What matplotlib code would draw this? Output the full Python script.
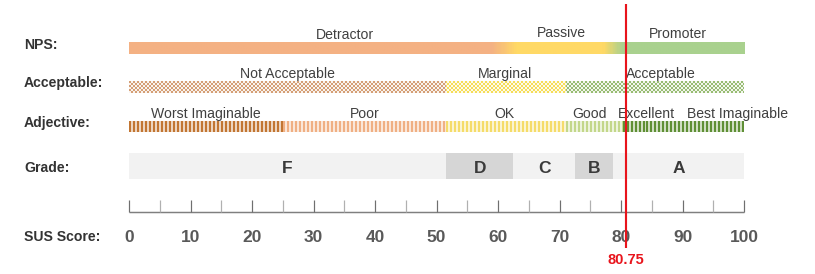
import numpy as np
import matplotlib
matplotlib.use("Agg")
import matplotlib.pyplot as plt
from matplotlib.colors import LinearSegmentedColormap, to_rgb

# ---------------- data ----------------
sus_score = 80.75

nps_labels = ["Detractor", "Passive", "Promoter"]
nps_bounds = [0, 62.7, 78.8, 100]
nps_label_x = [35.1, 70.3, 89.2]

accept_labels = ["Not Acceptable", "Marginal", "Acceptable"]
accept_bounds = [0, 51.6, 71.0, 100]
accept_label_x = [25.7, 61.1, 86.5]

adj_labels = ["Worst Imaginable", "Poor", "OK", "Good", "Excellent", "Best Imaginable"]
adj_bounds = [0, 25.0, 51.6, 71.0, 80.3, 84.1, 100]
adj_label_x = [12.5, 38.4, 61.1, 74.8, 84.2, 98.9]

grade_labels = ["F", "D", "C", "B", "A"]
grade_bounds = [0, 51.6, 62.5, 72.5, 78.7, 100]

major_ticks = [0, 10, 20, 30, 40, 50, 60, 70, 80, 90, 100]
minor_ticks = [5, 15, 25, 35, 45, 55, 65, 75, 85, 95]

# ---------------- style ----------------
DPI = 96
W, H = 815, 274
X0, PX = 129, 6.15   # pixel of 0, pixels per unit

plt.rcParams["font.family"] = ["Liberation Sans", "DejaVu Sans"]

fig = plt.figure(figsize=(W / DPI, H / DPI), dpi=DPI)
ax = fig.add_axes([0, 0, 1, 1])
ax.set_xlim(-X0 / PX, (W - X0) / PX)
ax.set_ylim(H, 0)
ax.axis("off")

txt_col = "#404040"
lab_col = "#333333"

# Row labels
lt = ax.get_yaxis_transform()
row_labels = [("NPS:", 49.3), ("Acceptable:", 87.3), ("Adjective:", 127.3),
              ("Grade:", 172.3), ("SUS Score:", 240.7)]
for t, yb in row_labels:
    ax.text(24 / W, yb, t, transform=lt, ha="left", va="baseline",
            fontsize=10.5, fontweight="bold", color=lab_col)

# ---- NPS gradient bar ----
c_or, c_ye, c_gr = "#F4B183", "#FFD966", "#A9D18E"
cmap = LinearSegmentedColormap.from_list(
    "nps", [(0, c_or), (0.59, c_or), (0.63, c_ye), (0.772, c_ye),
            (0.803, c_gr), (1.0, c_gr)])
grad = np.linspace(0, 1, 600)[None, :]
ax.imshow(grad, cmap=cmap, extent=[nps_bounds[0], nps_bounds[-1], 53.7, 42.3],
          aspect="auto", interpolation="bilinear", zorder=1)
nps_base = [39.0, 36.8, 38.5]
for lab, x, yb in zip(nps_labels, nps_label_x, nps_base):
    ax.text(x, yb, lab, ha="center", va="baseline", fontsize=10.5, color=txt_col)

# ---- Acceptable (checkered) ----
acc_cols = ["#C9824C", "#F4D325", "#78A848"]
with plt.rc_context({"hatch.linewidth": 0.45}):
    for i in range(len(accept_labels)):
        l, r = accept_bounds[i], accept_bounds[i + 1]
        ax.barh((81 + 92.7) / 2, r - l, left=l, height=11.7, color="white",
                edgecolor=acc_cols[i], linewidth=0, hatch="xxxxxxxx", zorder=1)
for lab, x in zip(accept_labels, accept_label_x):
    ax.text(x, 78.3, lab, ha="center", va="baseline", fontsize=10.5, color=txt_col)

# ---- Adjective (striped) ----
adj_cols = ["#C27633", "#F0B084", "#F5DC6A", "#C3D78A", "#5F8F35", "#5F8F35"]
white = np.array([1.0, 1.0, 1.0])
for i in range(len(adj_labels)):
    l, r = adj_bounds[i], adj_bounds[i + 1]
    c = np.array(to_rgb(adj_cols[i]))
    light = c * 0.3 + white * 0.7
    n = max(1, int(round((r - l) * PX / 2)))
    tex = np.empty((1, n, 3))
    tex[0, ::2] = c
    tex[0, 1::2] = light
    ax.imshow(tex, extent=[l, r, 131.7, 121], aspect="auto",
              interpolation="nearest", zorder=1)
for lab, x in zip(adj_labels, adj_label_x):
    ax.text(x, 118.3, lab, ha="center", va="baseline", fontsize=10.5, color=txt_col)

# ---- Grade ----
g_cols = ["#F2F2F2", "#D6D6D6", "#F2F2F2", "#D6D6D6", "#F2F2F2"]
for i in range(len(grade_labels)):
    l, r = grade_bounds[i], grade_bounds[i + 1]
    ax.barh((152.7 + 179) / 2, r - l, left=l, height=26.3, color=g_cols[i],
            linewidth=0, zorder=1)
    ax.text((l + r) / 2, 173.3, grade_labels[i], ha="center", va="baseline",
            fontsize=13, fontweight="bold", color="#3A3A3A", zorder=3)

# ---- SUS axis ----
ax.hlines(212, major_ticks[0], major_ticks[-1], color="#7F7F7F", lw=1.1, zorder=2)
ax.vlines(major_ticks, 200.3, 212, color="#6F6F6F", lw=0.9, zorder=2)
ax.vlines(minor_ticks, 200.3, 212, color="#B0B0B0", lw=0.9, zorder=2)
for t in major_ticks:
    ax.text(t, 241.7, str(t), ha="center", va="baseline", fontsize=13,
            fontweight="bold", color="#595959")

# ---- score marker ----
ax.vlines(sus_score, 4, 248.3, color="#E8141C", lw=1.6, zorder=5)
ax.text(sus_score, 264, f"{sus_score:.2f}", ha="center", va="baseline",
        fontsize=11, fontweight="bold", color="#E8141C", zorder=5)

ax.set_xlim(-X0 / PX, (W - X0) / PX)
ax.set_ylim(H, 0)

fig.savefig("out.png", dpi=DPI)
